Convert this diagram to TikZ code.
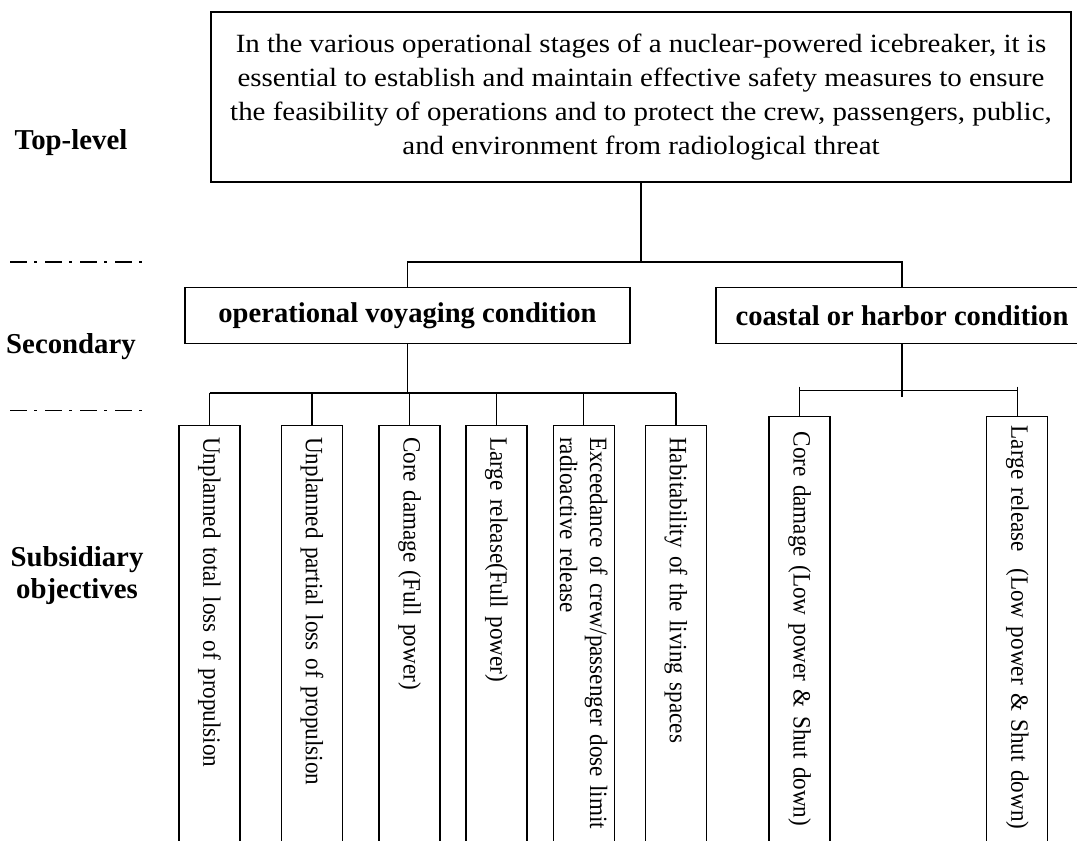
\documentclass[tikz,border=0pt]{standalone}
\usepackage{fontspec}
\setmainfont{Liberation Serif}
\newfontfamily\widefont[FakeStretch=1.1]{Liberation Serif}
\newfontfamily\narrowfont[FakeStretch=0.93]{Liberation Serif}
\begin{document}
\begin{tikzpicture}[x=1pt,y=-1pt,
  lw/.style={line width=1.4pt},
  topbox/.style={draw,lw,minimum width=860pt,minimum height=170pt,align=center,inner sep=0pt,
    font=\widefont\fontsize{26.3}{34.2}\selectfont},
  secbox/.style={draw,lw,minimum height=56.5pt,inner sep=0pt,font=\fontsize{28.6}{32}\selectfont\bfseries},
  vbox/.style={draw,lw,rotate=-90,anchor=west,minimum height=61pt,text width=476pt,
    inner xsep=12pt,inner ysep=0pt,align=left,font=\narrowfont\fontsize{24.9}{30}\selectfont},
  lab/.style={align=center,font=\fontsize{28.8}{32}\selectfont\bfseries},
  conn/.style={line width=1.3pt},
  sep/.style={line width=1.2pt,dash pattern=on 17pt off 7pt on 3pt off 8pt}
]
\useasboundingbox (0,0) rectangle (1077,841);
\clip (0,0) rectangle (1077,841);

% level labels
\node[lab] (l1) at (71,143) {Top-level};
\node[lab] (l2) at (71,347) {Secondary};
\node[lab] (l3) at (77,576) {Subsidiary\\objectives};
\draw[sep] (10,262) -- (148,262);
\draw[sep] (10,410.5) -- (148,410.5);

% top box
\node[topbox] (top) at (641,97) {In the various operational stages of a nuclear-powered icebreaker, it is\\
essential to establish and maintain effective safety measures to ensure\\
the feasibility of operations and to protect the crew, passengers, public,\\
and environment from radiological threat};

% secondary
\node[secbox,minimum width=445pt] (sv) at (407.5,315.5) {operational voyaging condition};
\node[secbox,minimum width=372pt] (sc) at (902,315.5) {coastal or harbor condition};

% subsidiary boxes
\node[vbox] (b1) at (209.5,424.5) {Unplanned total loss of propulsion};
\node[vbox] (b2) at (312,424.5) {Unplanned partial loss of propulsion};
\node[vbox] (b3) at (409.5,424.5) {Core damage (Full power)};
\node[vbox] (b4) at (496.4,424.5) {Large release(Full power)};
\node[vbox] (b5) at (583.7,424.5) {Exceedance of crew/passenger dose limit\\radioactive release};
\node[vbox] (b6) at (676,424.5) {Habitability of the living spaces};
\node[vbox,inner xsep=15pt] (b7) at (799.5,416) {Core damage (Low power \& Shut down)};
\node[vbox,inner xsep=9pt] (b8) at (1017.2,416) {Large release\ \ (Low power \& Shut down)};

% connectors
\coordinate (j1) at (641,262);
\draw[conn] (top.south) -- (j1);
\draw[conn] (sv.north) -- (sv.north |- j1) -- (sc.north |- j1) -- (sc.north);

\coordinate (lb) at (0,393);
\draw[conn] (sv.south) -- (sv.south |- lb);
\draw[conn] (b1.west |- lb) -- (b6.west |- lb);
\foreach \b in {b1,b2,b3,b4,b5,b6}{\draw[conn] (\b.west |- lb) -- (\b.west);}

\coordinate (rb) at (0,390.7);
\coordinate (rt) at (0,386.7);
\coordinate (re) at (0,396.7);
\draw[conn] (sc.south) -- (sc.south |- re);
\draw[conn] (b7.west |- rb) -- (b8.west |- rb);
\foreach \b in {b7,b8}{\draw[conn] (\b.west |- rt) -- (\b.west);}
\end{tikzpicture}
\end{document}
